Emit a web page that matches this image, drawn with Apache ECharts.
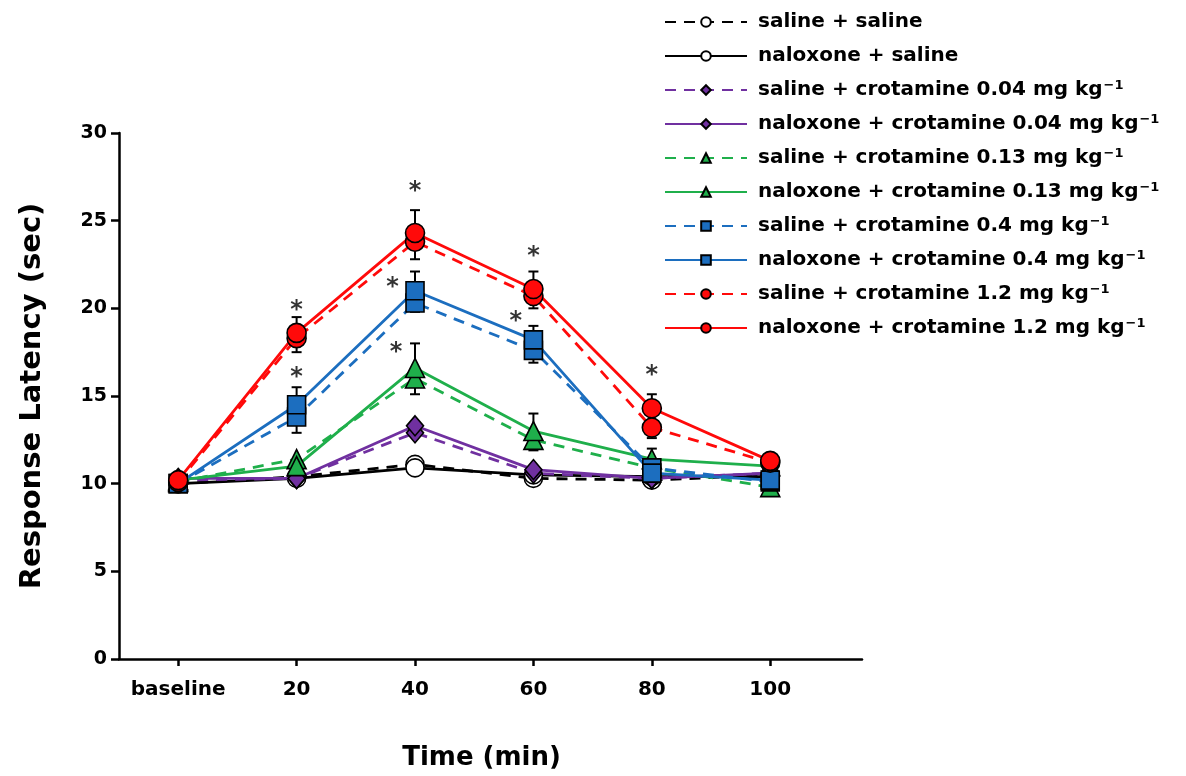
<!DOCTYPE html>
<html>
<head>
<meta charset="utf-8">
<script src="https://cdn.jsdelivr.net/npm/echarts@6/dist/echarts.min.js"></script>
<style>html,body{margin:0;padding:0;background:#fff;overflow:hidden}#c{width:1186px;height:776px}</style>
</head>
<body>
<div id="c"></div>
<script>
// ---- data ----
const timePoints = [0, 20, 40, 60, 80, 100];
const xTickValues = [0, 20, 40, 60, 80, 100];
const xTickLabels = ['baseline', '20', '40', '60', '80', '100'];

const salineSaline      = [10.0, 10.4, 11.1, 10.3, 10.2, 10.5];
const naloxoneSaline    = [10.0, 10.3, 10.9, 10.5, 10.4, 10.4];
const salineCro004      = [10.2, 10.3, 12.9, 10.6, 10.3, 10.6];
const naloxoneCro004    = [10.3, 10.3, 13.3, 10.8, 10.3, 10.6];
const salineCro013      = [10.1, 11.4, 16.0, 12.5, 10.9, 9.8];
const naloxoneCro013    = [10.2, 11.0, 16.6, 13.0, 11.4, 11.0];
const salineCro04       = [10.0, 13.8, 20.3, 17.6, 10.9, 10.1];
const naloxoneCro04     = [10.0, 14.5, 21.0, 18.2, 10.6, 10.2];
const salineCro12       = [10.1, 18.3, 23.8, 20.7, 13.2, 11.2];
const naloxoneCro12     = [10.2, 18.6, 24.3, 21.1, 14.3, 11.3];

// error (SEM) drawn upward for naloxone groups, downward for saline groups
const errNaloxoneCro013 = [0, 0, 1.4, 1.0, 0.6, 0];
const errSalineCro013   = [0, 0, 0.9, 0.6, 0, 0];
const errNaloxoneCro04  = [0, 1.0, 1.1, 0.8, 0, 0];
const errSalineCro04    = [0, 0.9, 0.5, 0.7, 0, 0];
const errNaloxoneCro12  = [0, 0.9, 1.3, 1.0, 0.8, 0];
const errSalineCro12    = [0, 0.8, 1.0, 0.7, 0.6, 0];

const starX = [20, 20, 40, 36.2, 36.8, 60, 57, 80];
const starY = [20.2, 16.4, 27.0, 21.5, 17.8, 23.3, 19.6, 16.5];

const seriesNames = [
  'saline + saline',
  'naloxone + saline',
  'saline + crotamine 0.04 mg kg',
  'naloxone + crotamine 0.04 mg kg',
  'saline + crotamine 0.13 mg kg',
  'naloxone + crotamine 0.13 mg kg',
  'saline + crotamine 0.4 mg kg',
  'naloxone + crotamine 0.4 mg kg',
  'saline + crotamine 1.2 mg kg',
  'naloxone + crotamine 1.2 mg kg'
];

// ---- styling ----
const BLACK = '#000000', PURPLE = '#7030A0', GREEN = '#1FAF4B', BLUE = '#1C6EBF', RED = '#FF0A0A';
const FONT = 'DejaVu Sans, Arial, sans-serif';

const valueSets = [salineSaline, naloxoneSaline, salineCro004, naloxoneCro004, salineCro013, naloxoneCro013, salineCro04, naloxoneCro04, salineCro12, naloxoneCro12];
const colors = [BLACK, BLACK, PURPLE, PURPLE, GREEN, GREEN, BLUE, BLUE, RED, RED];
const fills  = ['#fff', '#fff', PURPLE, PURPLE, GREEN, GREEN, BLUE, BLUE, RED, RED];
const symbols = ['circle', 'circle', 'diamond', 'diamond', 'triangle', 'triangle', 'rect', 'rect', 'circle', 'circle'];
const sizes = [18, 18, [17, 20], [17, 20], [19, 19], [19, 19], 18, 18, 19, 19];

const lineSeries = valueSets.map((vals, i) => ({
  name: seriesNames[i],
  type: 'line',
  data: timePoints.map((t, k) => [t, vals[k]]),
  symbol: symbols[i],
  symbolSize: sizes[i],
  showSymbol: true,
  lineStyle: { color: colors[i], width: 2.8, type: i % 2 === 0 ? [11, 8] : 'solid' },
  itemStyle: { color: fills[i], borderColor: '#000', borderWidth: 1.6 },
  z: 3 + Math.floor(i / 2),
  emphasis: { disabled: true },
  animation: false
}));

// error bar data
const errSpecs = [
  [naloxoneCro013, errNaloxoneCro013, 1], [salineCro013, errSalineCro013, -1],
  [naloxoneCro04, errNaloxoneCro04, 1], [salineCro04, errSalineCro04, -1],
  [naloxoneCro12, errNaloxoneCro12, 1], [salineCro12, errSalineCro12, -1]
];
const errData = [];
errSpecs.forEach(([vals, errs, dir]) => {
  timePoints.forEach((t, k) => {
    if (errs[k] > 0) errData.push([t, vals[k], vals[k] + dir * errs[k]]);
  });
});

const errorSeries = {
  type: 'custom',
  name: 'err',
  data: errData,
  z: 2,
  silent: true,
  animation: false,
  renderItem: function (params, api) {
    const x = api.value(0);
    const p0 = api.coord([x, api.value(1)]);
    const p1 = api.coord([x, api.value(2)]);
    const cap = 5;
    return {
      type: 'group',
      children: [
        { type: 'line', shape: { x1: p0[0], y1: p0[1], x2: p1[0], y2: p1[1] }, style: { stroke: '#000', lineWidth: 2 } },
        { type: 'line', shape: { x1: p1[0] - cap, y1: p1[1], x2: p1[0] + cap, y2: p1[1] }, style: { stroke: '#000', lineWidth: 2 } }
      ]
    };
  }
};

const starSeries = {
  type: 'scatter',
  name: 'stars',
  data: starX.map((x, i) => [x, starY[i]]),
  symbolSize: 1,
  itemStyle: { color: 'rgba(0,0,0,0)' },
  silent: true,
  animation: false,
  z: 10,
  label: {
    show: true, position: 'inside', formatter: '*', color: '#000',
    fontSize: 24, fontWeight: 'bold', fontFamily: FONT, offset: [0, 6]
  }
};

const chart = echarts.init(document.getElementById('c'), null, { renderer: 'canvas' });
chart.setOption({
  backgroundColor: '#fff',
  animation: false,
  grid: { left: 119, width: 743, top: 133, height: 541, containLabel: false },
  legend: {
    data: seriesNames,
    orient: 'vertical',
    left: 659,
    top: 6,
    itemWidth: 82,
    itemHeight: 12,
    itemGap: 12,
    selectedMode: false,
    formatter: function (name) {
      if (name.indexOf('mg kg') >= 0) return '{t|' + name + '}{s|−1}';
      return '{t|' + name + '}';
    },
    textStyle: {
      color: '#000', fontFamily: FONT, fontWeight: 'bold', fontSize: 20, lineHeight: 22,
      rich: {
        t: { fontFamily: FONT, fontWeight: 'bold', fontSize: 20, lineHeight: 22, color: '#000', padding: [0, 0, 0, 6] },
        s: { fontFamily: FONT, fontWeight: 'bold', fontSize: 13, lineHeight: 22, color: '#000', verticalAlign: 'top', padding: [0, 0, 0, 1] }
      }
    }
  },
  xAxis: {
    type: 'value',
    min: -10,
    max: 115.5,
    name: 'Time (min)',
    nameLocation: 'middle',
    nameGap: 86,
    nameTextStyle: { fontFamily: FONT, fontWeight: 'bold', fontSize: 26, color: '#000', padding: [0, 18, 0, 0] },
    axisLine: { show: true, onZero: false, lineStyle: { color: '#000', width: 2.5 } },
    axisTick: { show: true, customValues: xTickValues, length: 7, lineStyle: { color: '#000', width: 2.5 } },
    axisLabel: {
      customValues: xTickValues,
      formatter: function (v) { const i = xTickValues.indexOf(v); return i >= 0 ? xTickLabels[i] : ''; },
      fontFamily: FONT, fontWeight: 'bold', fontSize: 20, color: '#000', margin: 21
    },
    splitLine: { show: false }
  },
  yAxis: {
    type: 'value',
    min: 0,
    max: 30,
    interval: 5,
    name: 'Response Latency (sec)',
    nameLocation: 'middle',
    nameGap: 72,
    nameTextStyle: { fontFamily: FONT, fontWeight: 'bold', fontSize: 29, color: '#000' },
    axisLine: { show: true, onZero: false, lineStyle: { color: '#000', width: 2.5 } },
    axisTick: { show: true, length: 8, lineStyle: { color: '#000', width: 2.5 } },
    axisLabel: { fontFamily: FONT, fontWeight: 'bold', fontSize: 19, color: '#000', margin: 12 },
    splitLine: { show: false }
  },
  series: [errorSeries].concat(lineSeries).concat([starSeries])
});
</script>
</body>
</html>
